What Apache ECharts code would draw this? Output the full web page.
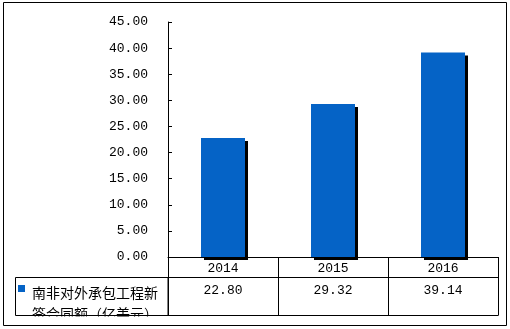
<!DOCTYPE html>
<html>
<head>
<meta charset="utf-8">
<script src="https://cdn.jsdelivr.net/npm/echarts@6/dist/echarts.min.js"></script>
<style>html,body{margin:0;padding:0;background:#fff}#c{width:510px;height:329px}</style>
</head>
<body>
<div id="c"></div>
<script>
const categories = ['2014', '2015', '2016'];
const values = [22.80, 29.32, 39.14];
const seriesName = '南非对外承包工程新签合同额（亿美元）';
const legendLines = ['南非对外承包工程新', '签合同额（亿美元）'];
const yMin = 0, yMax = 45, yStep = 5;

const L = 168, R = 12, T = 22, AX = 257, ROW1 = 277, ROW2 = 315;
const numFont = 'Liberation Mono';
const cjkFont = 'Noto Sans CJK SC';
const barColor = '#0563C6';

const chart = echarts.init(document.getElementById('c'), null, {renderer: 'canvas'});
const blackLine = {show: true, lineStyle: {color: '#000', width: 1}};
chart.setOption({
  animation: false,
  backgroundColor: '#fff',
  grid: [
    {left: L, right: R, top: T, height: AX - T},
    {left: L, right: R, top: AX, height: ROW1 - AX},
    {left: L, right: R, top: ROW1, height: ROW2 - ROW1}
  ],
  xAxis: [
    {gridIndex: 0, type: 'category', data: categories, position: 'bottom',
     axisLine: blackLine, axisTick: {show: false}, axisLabel: {show: false}, splitLine: {show: false}},
    {gridIndex: 1, type: 'category', data: categories, position: 'top',
     axisLine: blackLine, axisTick: {show: false},
     axisLabel: {inside: true, margin: 5, color: '#000', fontFamily: numFont, fontSize: 13, lineHeight: 13},
     splitLine: blackLine},
    {gridIndex: 2, type: 'category', data: categories, position: 'top',
     axisLine: blackLine, axisTick: {show: false},
     axisLabel: {inside: true, margin: 7, color: '#000', fontFamily: numFont, fontSize: 13, lineHeight: 13,
       formatter: (v, i) => values[i].toFixed(2)},
     splitLine: blackLine},
    {gridIndex: 2, type: 'category', data: categories, position: 'bottom',
     axisLine: blackLine, axisTick: {show: false}, axisLabel: {show: false}, splitLine: {show: false}}
  ],
  yAxis: [
    {gridIndex: 0, type: 'value', min: yMin, max: yMax, interval: yStep,
     axisLine: blackLine,
     axisTick: {show: true, inside: true, length: 4, lineStyle: {color: '#000'}},
     axisLabel: {margin: 20, color: '#000', fontFamily: numFont, fontSize: 13, formatter: v => v.toFixed(2)},
     splitLine: {show: false}},
    {gridIndex: 1, type: 'value', min: 0, max: 1, show: false},
    {gridIndex: 2, type: 'value', min: 0, max: 1, show: false}
  ],
  series: [{
    name: seriesName,
    type: 'bar',
    xAxisIndex: 0, yAxisIndex: 0,
    data: values,
    barWidth: '40%',
    itemStyle: {color: barColor, shadowColor: '#000', shadowBlur: 0, shadowOffsetX: 3, shadowOffsetY: 3}
  }],
  graphic: [
    {type: 'rect', z: 10, shape: {x: 15.5, y: ROW1 + 0.5, width: L - 15.5, height: ROW2 - ROW1},
     style: {fill: 'none', stroke: '#000', lineWidth: 1}},
    {type: 'rect', z: 10, shape: {x: 18, y: 285, width: 7, height: 7}, style: {fill: barColor}},
    {type: 'text', z: 10, left: 32, top: 282,
     style: {text: legendLines.join('\n'), font: '14px "' + cjkFont + '"', fill: '#000', lineHeight: 21}},
    {type: 'rect', z: 11, shape: {x: 4, y: ROW2 + 1.5, width: 501, height: 9}, style: {fill: '#fff'}},
    {type: 'rect', z: 12, shape: {x: 3.5, y: 2.5, width: 503, height: 323},
     style: {fill: 'none', stroke: '#000', lineWidth: 1}}
  ]
});
</script>
</body>
</html>
